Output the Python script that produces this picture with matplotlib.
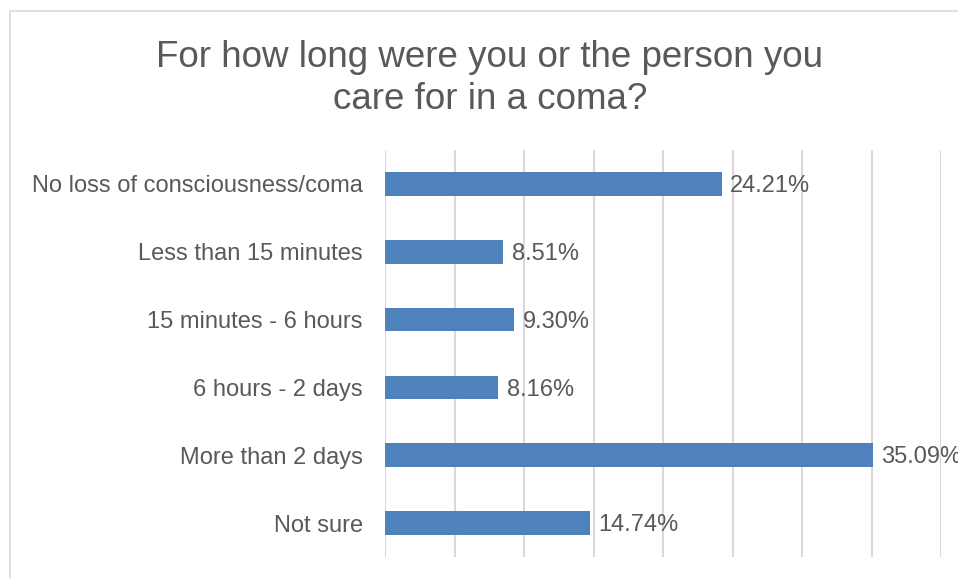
import matplotlib.pyplot as plt
from matplotlib.patches import Rectangle

categories = [
    "No loss of consciousness/coma",
    "Less than 15 minutes",
    "15 minutes - 6 hours",
    "6 hours - 2 days",
    "More than 2 days",
    "Not sure",
]
values = [24.21, 8.51, 9.30, 8.16, 35.09, 14.74]
value_labels = ["24.21%", "8.51%", "9.30%", "8.16%", "35.09%", "14.74%"]

bar_color = "#4F81BD"
text_color = "#595959"
grid_color = "#D9D9D9"

plt.rcParams["font.family"] = ["Liberation Sans", "DejaVu Sans"]

W, H = 958, 578
fig = plt.figure(figsize=(W / 100, H / 100), dpi=100)

# chart frame (runs off the right and bottom edges)
fig.patches.append(Rectangle((10 / W, -0.1), 1.2, 1 - 11 / H + 0.1,
                             transform=fig.transFigure, fill=False,
                             edgecolor=grid_color, linewidth=1.2))

ax = fig.add_axes([385 / W, 1 - 557 / H, (941 - 385) / W, (557 - 150) / H])
ax.set_xlim(0, 40)
y = range(len(categories))
ax.barh(y, values, height=0.35, color=bar_color, zorder=3)
ax.set_ylim(len(categories) - 0.5, -0.5)

for i, (v, lab) in enumerate(zip(values, value_labels)):
    ax.annotate(lab, (v, i), xytext=(6, -1.5), textcoords="offset points",
                va="center", ha="left", fontsize=17, color=text_color,
                annotation_clip=False, clip_on=False)

ax.set_xticks(range(0, 45, 5))
ax.xaxis.grid(True, color=grid_color, linewidth=1.5, zorder=0)
ax.tick_params(axis="x", length=0, labelbottom=False)
ax.tick_params(axis="y", length=0, pad=16, labelsize=17, labelcolor=text_color)
ax.set_yticks(list(y))
ax.set_yticklabels(categories)
for s in ax.spines.values():
    s.set_visible(False)

fig.text(490 / W, 1 - 40 / H, "For how long were you or the person you\ncare for in a coma?",
         ha="center", va="top", fontsize=26.5, color=text_color, linespacing=1.25)

fig.savefig("out.png", dpi=100)
